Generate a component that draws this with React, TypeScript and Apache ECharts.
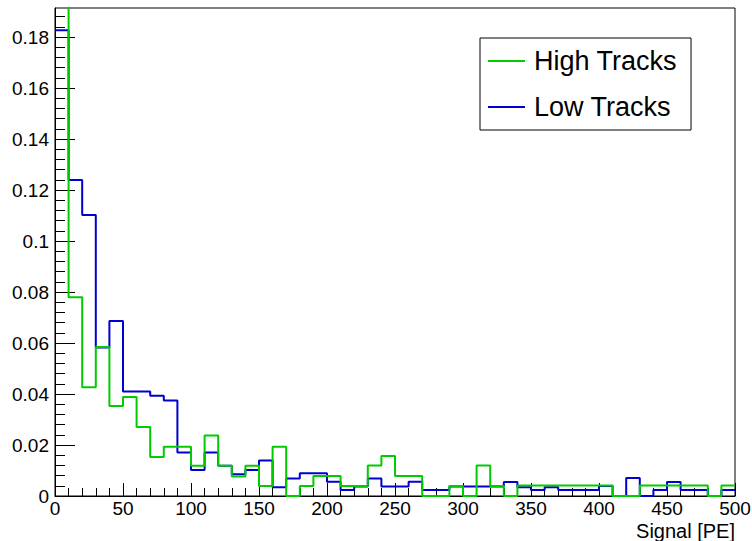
import React, { useEffect, useRef } from "react";
import * as echarts from "echarts";

// Histogram bins: lower edges (width 10 PE), 0..490
const binLow = [
  0, 10, 20, 30, 40, 50, 60, 70, 80, 90,
  100, 110, 120, 130, 140, 150, 160, 170, 180, 190,
  200, 210, 220, 230, 240, 250, 260, 270, 280, 290,
  300, 310, 320, 330, 340, 350, 360, 370, 380, 390,
  400, 410, 420, 430, 440, 450, 460, 470, 480, 490,
];
const binWidth = 10;

const highTracks = [
  0.43, 0.078, 0.0427, 0.0584, 0.0353, 0.0388, 0.0271, 0.0153, 0.0193, 0.0193,
  0.0119, 0.0237, 0.0119, 0.0076, 0.0119, 0.0039, 0.0193, 0, 0.0039, 0.0078,
  0.0078, 0.0039, 0.0039, 0.012, 0.0157, 0.0078, 0.0078, 0, 0, 0.0039,
  0, 0.012, 0.0039, 0, 0.0041, 0.0041, 0.0041, 0.0041, 0.0041, 0.0041,
  0.0041, 0, 0, 0.0041, 0.0041, 0.0041, 0.0041, 0.0041, 0, 0.0041,
];

const lowTracks = [
  0.1827, 0.1239, 0.1102, 0.0582, 0.0686, 0.041, 0.041, 0.0393, 0.0375, 0.0171,
  0.0102, 0.0171, 0.0119, 0.0085, 0.0102, 0.0139, 0.0034, 0.0069, 0.0089, 0.0089,
  0.0056, 0.0024, 0.0037, 0.0069, 0.0037, 0.0037, 0.0056, 0.0024, 0.0024, 0.0037,
  0.0037, 0.0037, 0.0037, 0.0055, 0.0034, 0.0024, 0.0034, 0.0024, 0.0024, 0.0024,
  0.0039, 0, 0.0071, 0, 0.0024, 0.0055, 0.0024, 0.0024, 0, 0.0024,
];

const yMajorTicks = [0, 0.02, 0.04, 0.06, 0.08, 0.1, 0.12, 0.14, 0.16, 0.18];
const yMinorTicks = [
  0.004, 0.008, 0.012, 0.016, 0.024, 0.028, 0.032, 0.036, 0.044, 0.048, 0.052, 0.056,
  0.064, 0.068, 0.072, 0.076, 0.084, 0.088, 0.092, 0.096, 0.104, 0.108, 0.112, 0.116,
  0.124, 0.128, 0.132, 0.136, 0.144, 0.148, 0.152, 0.156, 0.164, 0.168, 0.172, 0.176,
  0.184, 0.188,
];
const Y_MAX = 0.1914;
const X_TITLE = "Signal [PE]";

const FONT = '"Liberation Sans", Arial, Helvetica, sans-serif';
const GREEN = "#00cc00";
const BLUE = "#0000d0";

function stepPoints(values: number[]): number[][] {
  const pts: number[][] = [];
  values.forEach((v, i) => {
    pts.push([binLow[i], v]);
    pts.push([binLow[i] + binWidth, v]);
  });
  return pts;
}

export default function App() {
  const ref = useRef<HTMLDivElement>(null);

  useEffect(() => {
    if (!ref.current) return;
    const chart = echarts.init(ref.current, undefined, { renderer: "svg" });
    chart.setOption({
      animation: false,
      backgroundColor: "#fff",
      textStyle: { fontFamily: FONT },
      grid: {
        left: 55,
        top: 8,
        right: 17,
        bottom: 45,
        containLabel: false,
        outerBoundsMode: "none",
        show: true,
        borderColor: "#000",
        borderWidth: 1,
        backgroundColor: "transparent",
      },
      legend: {
        show: true,
        orient: "vertical",
        left: 480,
        top: 38,
        padding: [8, 14, 8, 8],
        itemWidth: 37,
        itemHeight: 2,
        itemGap: 16,
        icon: "rect",
        borderColor: "#000",
        borderWidth: 1,
        backgroundColor: "#fff",
        data: ["High Tracks", "Low Tracks"],
        textStyle: {
          fontSize: 27,
          lineHeight: 30,
          color: "#000",
          fontFamily: FONT,
          padding: [0, 0, 0, 4],
        },
      },
      graphic: [
        {
          type: "text",
          x: 735,
          y: 521,
          style: {
            text: X_TITLE,
            fontSize: 20,
            fontFamily: FONT,
            fill: "#000",
            align: "right",
            verticalAlign: "top",
          },
        },
      ],
      xAxis: {
        type: "value",
        min: 0,
        max: 500,
        interval: 50,
        axisLine: { show: true, lineStyle: { color: "#000", width: 1 } },
        axisTick: { show: true, inside: true, length: 13, lineStyle: { color: "#000" } },
        minorTick: { show: true, splitNumber: 5, length: 8, lineStyle: { color: "#000" } },
        axisLabel: { fontSize: 19, color: "#000", margin: 3, fontFamily: FONT },
        splitLine: { show: false },
      },
      yAxis: [
        {
          type: "value",
          min: 0,
          max: Y_MAX,
          axisLine: { show: true, lineStyle: { color: "#000", width: 1 } },
          axisTick: {
            show: true,
            inside: true,
            length: 20,
            customValues: yMajorTicks,
            lineStyle: { color: "#000" },
          },
          axisLabel: {
            fontSize: 19,
            color: "#000",
            margin: 6,
            fontFamily: FONT,
            customValues: yMajorTicks,
            formatter: (v: number) => String(v),
          },
          splitLine: { show: false },
        },
        {
          type: "value",
          min: 0,
          max: Y_MAX,
          position: "left",
          axisLine: { show: false },
          axisTick: {
            show: true,
            inside: true,
            length: 10,
            customValues: yMinorTicks,
            lineStyle: { color: "#000" },
          },
          axisLabel: { show: false },
          splitLine: { show: false },
        },
      ],
      series: [
        {
          name: "Low Tracks",
          type: "line",
          data: stepPoints(lowTracks),
          symbol: "none",
          clip: true,
          color: BLUE,
          lineStyle: { color: BLUE, width: 2 },
          z: 3,
        },
        {
          name: "High Tracks",
          type: "line",
          data: stepPoints(highTracks),
          symbol: "none",
          clip: true,
          color: GREEN,
          lineStyle: { color: GREEN, width: 2 },
          z: 4,
        },
      ],
    });
    return () => chart.dispose();
  }, []);

  return (
    <div
      ref={ref}
      style={{ position: "fixed", left: 0, top: 0, width: 752, height: 541, background: "#fff" }}
    />
  );
}
